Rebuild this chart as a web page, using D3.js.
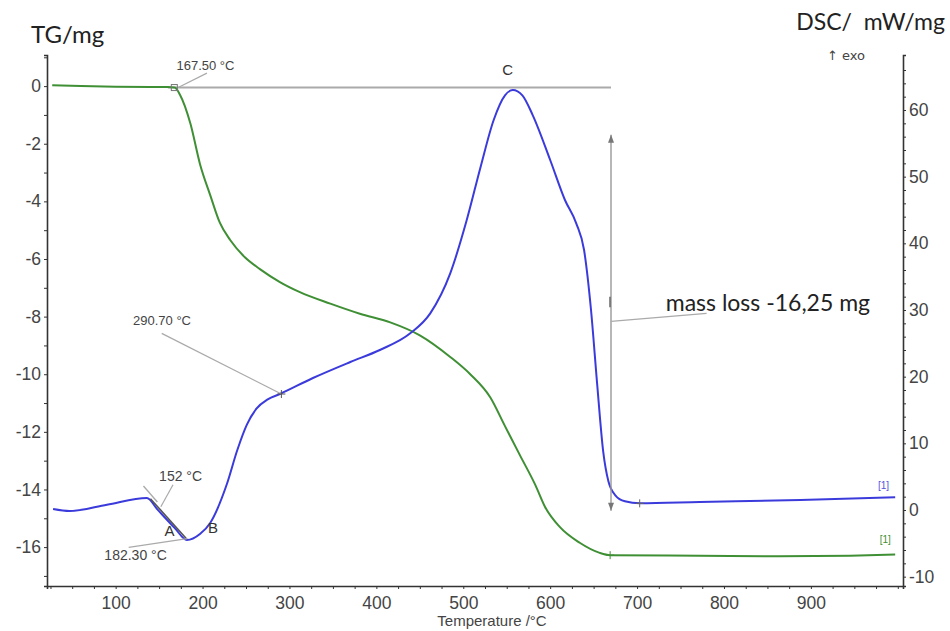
<!DOCTYPE html>
<html>
<head>
<meta charset="utf-8">
<script src="https://cdn.jsdelivr.net/npm/d3@7"></script>
<style>
  body { margin: 0; background: #fff; }
  text { font-family: Arial, 'Liberation Sans', sans-serif; }
</style>
</head>
<body>
<div id="chart"></div>
<script>
// temperature (°C) and values
const tgTemps = [27, 60, 100, 140, 160, 168, 174, 186, 197, 209, 220, 232, 249, 266, 289, 312, 347, 381, 416, 450, 485, 508, 531, 548, 565, 583, 594, 611, 634, 657, 669, 772, 864, 945, 997]
const tgValues = [0.03, 0.0, -0.02, -0.03, -0.03, -0.05, -0.3, -1.3, -2.7, -3.8, -4.75, -5.35, -5.95, -6.35, -6.8, -7.15, -7.55, -7.9, -8.2, -8.65, -9.4, -10.0, -10.8, -11.8, -12.8, -13.85, -14.6, -15.3, -15.85, -16.2, -16.28, -16.3, -16.32, -16.3, -16.26]

const dscTemps = [28, 47, 90, 136, 148, 168, 182, 197, 209, 228, 240, 251, 262, 275, 289, 327, 370, 404, 439, 462, 485, 504, 520, 535, 548, 557, 568, 580, 600, 617, 630, 639, 647, 654, 661, 667, 675, 686, 703, 772, 888, 997]
const dscValues = [0.15, -0.15, 0.8, 1.8, 0.1, -2.7, -4.5, -3.6, -1.9, 3.9, 9.0, 12.8, 15.2, 16.6, 17.4, 19.8, 22.2, 24.0, 26.5, 29.5, 35.5, 43.5, 51.5, 58.5, 62.2, 63, 62.2, 59.2, 52.5, 46.5, 43, 39, 30, 19, 8.8, 4.3, 2.2, 1.3, 1.0, 1.2, 1.5, 1.9]

const xTicks = [100, 200, 300, 400, 500, 600, 700, 800, 900]
const tgTicks = [0, -2, -4, -6, -8, -10, -12, -14, -16]
const dscTicks = [60, 50, 40, 30, 20, 10, 0, -10]

const margin = { top: 55, left: 47, right: 47, bottom: 45 }
const W = 950
const H = 631

const svg = d3
  .select('#chart')
  .append('svg')
  .attr('width', W)
  .attr('height', H)

const xScale = d3.scaleLinear().domain([21, 1006]).range([margin.left, W - margin.right])
const yTG = d3.scaleLinear().domain([-17.35, 1.08]).range([H - margin.bottom, margin.top])
const yDSC = d3.scaleLinear().domain([-11.4, 68.25]).range([H - margin.bottom, margin.top])

const axisColor = '#333'
const labelColor = '#444'

// axes
const xAxis = svg
  .append('g')
  .attr('transform', 'translate(0,' + (H - margin.bottom) + ')')
  .call(d3.axisBottom(xScale).tickValues(d3.range(25, 1001, 25)).tickSize(3).tickFormat(d => (xTicks.includes(d) ? d : '')))
xAxis.selectAll('text').attr('dy', '0.95em').style('font-size', '17.5px').attr('fill', labelColor)

const leftAxis = svg
  .append('g')
  .attr('transform', 'translate(' + margin.left + ',0)')
  .call(d3.axisLeft(yTG).tickValues(d3.range(-17, 2, 1)).tickSize(3).tickFormat(d => (tgTicks.includes(d) ? d : '')))
leftAxis.selectAll('text').style('font-size', '17.5px').attr('fill', labelColor)

const rightAxis = svg
  .append('g')
  .attr('transform', 'translate(' + (W - margin.right) + ',0)')
  .call(d3.axisRight(yDSC).tickValues(d3.range(-10, 68, 2)).tickSize(3).tickFormat(d => (dscTicks.includes(d) ? d : '')))
rightAxis.selectAll('text').style('font-size', '17.5px').attr('fill', labelColor)

svg.selectAll('.domain').attr('stroke', axisColor).attr('stroke-width', 1.6)
svg.selectAll('.tick line').attr('stroke', axisColor)

// axis titles
svg.append('text').text('TG/mg').attr('x', 31).attr('y', 43)
  .style('font-family', 'Lato, sans-serif').style('font-size', '24px').attr('fill', '#222')
svg.append('text').text('DSC/  mW/mg').attr('x', 945).attr('y', 30).attr('text-anchor', 'end')
  .style('font-family', 'Lato, sans-serif').style('font-size', '23px').attr('fill', '#222').style('white-space', 'pre')
svg.append('text').text('↑ exo').attr('x', 827).attr('y', 60)
  .style('font-family', "'DejaVu Sans', sans-serif").style('font-size', '13px').attr('fill', labelColor)
svg.append('text').text('Temperature /°C').attr('x', 492).attr('y', 626).attr('text-anchor', 'middle')
  .style('font-size', '15px').attr('fill', labelColor)

// grey annotation helpers
const grey = '#9a9a9a'
function seg(x1, y1, x2, y2, color, w) {
  svg.append('line').attr('x1', x1).attr('y1', y1).attr('x2', x2).attr('y2', y2)
    .attr('stroke', color || grey).attr('stroke-width', w || 1.2)
}
function label(txt, x, y, size, color, anchor) {
  svg.append('text').text(txt).attr('x', x).attr('y', y)
    .attr('text-anchor', anchor || 'start')
    .style('font-size', (size || 13) + 'px').attr('fill', color || labelColor)
}
function cross(x, y, color) {
  seg(x - 4, y, x + 4, y, color || '#555', 1)
  seg(x, y - 4, x, y + 4, color || '#555', 1)
}

// TG zero baseline
seg(xScale(160), yTG(-0.05), xScale(670), yTG(-0.05), '#aaa', 2)

// DSC tangent near onset
seg(xScale(132), yDSC(3.6), xScale(148), yDSC(1.2), '#aaa', 1.3)

const line = d3.line().curve(d3.curveMonotoneX)

svg.append('path')
  .attr('d', line(tgTemps.map((t, i) => [xScale(t), yTG(tgValues[i])])))
  .attr('fill', 'none').attr('stroke', '#3f8f35').attr('stroke-width', 2)

svg.append('path')
  .attr('d', line(dscTemps.map((t, i) => [xScale(t), yDSC(dscValues[i])])))
  .attr('fill', 'none').attr('stroke', '#3b3bdc').attr('stroke-width', 2)

// dark tangent between A and minimum
seg(xScale(140), yDSC(1.7), xScale(182), yDSC(-4.4), '#555', 1.6)

// onset 167.50
svg.append('rect').attr('x', xScale(167.5) - 3).attr('y', yTG(-0.05) - 3).attr('width', 6).attr('height', 6)
  .attr('fill', 'none').attr('stroke', '#777')
seg(xScale(172), yTG(-0.05), xScale(205), yTG(0.45), '#aaa', 1.2)
label('167.50 °C', xScale(170), yTG(0.55))

// 290.70
seg(xScale(290.7), yDSC(17.4), xScale(153), yDSC(26.5), '#aaa', 1.3)
cross(xScale(290.7), yDSC(17.4))
label('290.70 °C', xScale(120), yDSC(27.8))

// 152 °C and 182.30 °C
seg(xScale(152), yDSC(0.5), xScale(166), yDSC(3.8), '#aaa', 1.2)
label('152 °C', xScale(150), yDSC(4.4), 14)
seg(xScale(182.3), yDSC(-4.3), xScale(115), yDSC(-5.6), '#aaa', 1.2)
label('182.30 °C', xScale(87), yDSC(-7.5), 14)
label('A', xScale(162), yDSC(-3.9), 15, '#333', 'middle')
label('B', xScale(212), yDSC(-3.4), 15, '#333', 'middle')
label('C', xScale(551), yDSC(65.2), 15, '#333', 'middle')

// mass loss arrow
const arrowX = xScale(670)
seg(arrowX, yDSC(56.3), arrowX, yDSC(-0.1), '#999', 1.4)
svg.append('path')
  .attr('d', 'M' + (arrowX - 3) + ',' + (yDSC(56.3) + 8) + 'L' + arrowX + ',' + yDSC(56.3) + 'L' + (arrowX + 3) + ',' + (yDSC(56.3) + 8) + 'Z')
  .attr('fill', '#777')
svg.append('path')
  .attr('d', 'M' + (arrowX - 3) + ',' + (yDSC(-0.1) - 8) + 'L' + arrowX + ',' + yDSC(-0.1) + 'L' + (arrowX + 3) + ',' + (yDSC(-0.1) - 8) + 'Z')
  .attr('fill', '#777')
seg(arrowX, yDSC(28.3), xScale(780), yDSC(29.5), '#aaa', 1.2)
seg(arrowX - 1, yDSC(32), arrowX - 1, yDSC(30.4), '#666', 1.5)
svg.append('text').text('mass loss -16,25 mg').attr('x', xScale(733)).attr('y', yDSC(29.9))
  .style('font-family', 'Lato, sans-serif').style('font-size', '23px').attr('fill', '#222')

cross(xScale(669), yTG(-16.28), '#3f8f35')
cross(xScale(703), yDSC(1.0), '#666')

// curve end tags
label('[1]', xScale(990), yDSC(3.2), 10, '#5555dd', 'end')
label('[1]', xScale(992), yTG(-15.85), 10, '#3f8f35', 'end')
</script>
</body>
</html>
